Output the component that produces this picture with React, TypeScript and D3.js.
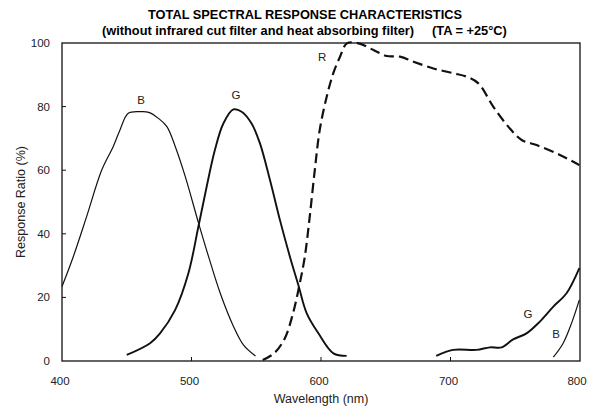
import React from "react";
import * as d3 from "d3";

const title1 = "TOTAL SPECTRAL RESPONSE CHARACTERISTICS";
const title2 = "(without infrared cut filter and heat absorbing filter)";
const title3 = "(TA = +25°C)";
const xLabel = "Wavelength (nm)";
const yLabel = "Response Ratio (%)";
const xTicks = [400, 500, 600, 700, 800];
const yTicks = [0, 20, 40, 60, 80, 100];

const blueWl = [400, 408.7, 419, 430.6, 439.5, 444.7, 451.2, 460.4, 467, 474.5, 481, 487.5, 495.2, 505.5, 513.2, 522.2, 532.5, 540.2, 549.4];
const blueVal = [23.4, 32.8, 45.4, 60, 67.4, 72.6, 77.9, 78.4, 78.2, 76.3, 73.7, 67.4, 58, 43.3, 32.8, 21.3, 10.8, 5, 1.6];

const greenWl = [450, 468, 475.7, 487.3, 497.6, 505.3, 511.7, 518.1, 524.6, 532.3, 538.7, 546.4, 552.8, 560.6, 568.3, 576, 582.5, 589, 598, 609.6, 619.8];
const greenVal = [1.9, 5.6, 8.7, 16, 27.6, 42.2, 54.8, 66.4, 74.7, 79.1, 78.4, 74.7, 68.5, 56.9, 44.3, 32.8, 23.9, 15, 8.7, 2.4, 1.6];

const greenIrWl = [689, 702, 720, 730.4, 739.5, 748.4, 758.7, 769, 779.4, 789.6, 799.5];
const greenIrVal = [1.6, 3.5, 3.5, 4.3, 4.3, 6.8, 8.7, 12.4, 17.1, 21.3, 29.2];

const blueIrWl = [779.4, 787, 793.5, 799.5];
const blueIrVal = [1.2, 5.6, 11.9, 19.2];

const redWl = [555, 564, 572, 578.4, 583.6, 587.5, 591.3, 595.2, 599, 604.4, 609.5, 614.7, 620, 629, 640.5, 650.8, 661, 671.4, 686.8, 702.2, 712.5, 721.5, 733, 744.6, 755, 766.5, 784.5, 799.5];
const redVal = [0.3, 2.5, 7.1, 15, 24.4, 32.8, 45.4, 60, 72.6, 83.1, 90.5, 95.7, 99.9, 99.9, 97.8, 95.9, 95.7, 94.1, 92, 90.5, 89.4, 87.3, 80, 73.7, 69.5, 67.9, 64.8, 61.6];

const curveLabels = ["B", "G", "R", "G", "B"];
const labelWl = [461, 534.4, 600.8, 759.8, 781.5];
const labelVal = [80.8, 82.4, 94.3, 13.5, 7.2];

const W = 595, H = 411;
const M = { left: 62, right: 580, top: 43, bottom: 361 };

export default function App() {
  const x = d3.scaleLinear().domain([400, 800]).range([M.left, M.right]);
  const y = d3.scaleLinear().domain([0, 100]).range([M.bottom, M.top]);
  const line = d3
    .line<[number, number]>()
    .x((d) => x(d[0]))
    .y((d) => y(d[1]))
    .curve(d3.curveCatmullRom.alpha(0.5));
  const zip = (a: number[], b: number[]) => a.map((v, i) => [v, b[i]] as [number, number]);
  const font = "'Liberation Sans', Arial, sans-serif";

  return (
    <svg width={W} height={H} style={{ position: "absolute", left: 0, top: 0, background: "#fff" }} fontFamily={font}>
      <text x={305} y={19} textAnchor="middle" fontSize={12.8} fontWeight="bold">{title1}</text>
      <text x={102} y={35} fontSize={12.8} fontWeight="bold">{title2}</text>
      <text x={432} y={35} fontSize={12.8} fontWeight="bold">{title3}</text>

      <rect x={M.left} y={M.top} width={M.right - M.left} height={M.bottom - M.top} fill="none" stroke="#111" strokeWidth={1.3} />
      {xTicks.slice(1, -1).map((t) => (
        <line key={"xt" + t} x1={x(t)} x2={x(t)} y1={M.bottom} y2={M.bottom - 4} stroke="#111" strokeWidth={1} />
      ))}
      {yTicks.slice(1, -1).map((t) => (
        <line key={"yt" + t} x1={M.left} x2={M.left + 4} y1={y(t)} y2={y(t)} stroke="#111" strokeWidth={1} />
      ))}
      {xTicks.map((t, i) => (
        <text key={"xl" + t} x={i === xTicks.length - 1 ? x(t) - 3 : x(t) - 2} y={385} textAnchor="middle" fontSize={11.5} fill="#222">{t}</text>
      ))}
      {yTicks.map((t) => (
        <text key={"yl" + t} x={50} y={y(t) + 4} textAnchor="end" fontSize={11.5} fill="#222">{t}</text>
      ))}
      <text x={321} y={403} textAnchor="middle" fontSize={12.5} fill="#222">{xLabel}</text>
      <text transform={`translate(25,${(M.top + M.bottom) / 2}) rotate(-90)`} textAnchor="middle" fontSize={12.5} fill="#222">{yLabel}</text>

      <path d={line(zip(blueWl, blueVal)) || ""} fill="none" stroke="#111" strokeWidth={1.2} />
      <path d={line(zip(greenWl, greenVal)) || ""} fill="none" stroke="#111" strokeWidth={1.9} />
      <path d={line(zip(greenIrWl, greenIrVal)) || ""} fill="none" stroke="#111" strokeWidth={1.9} />
      <path d={line(zip(blueIrWl, blueIrVal)) || ""} fill="none" stroke="#111" strokeWidth={1.2} />
      <path d={line(zip(redWl, redVal)) || ""} fill="none" stroke="#111" strokeWidth={2.2} strokeDasharray="10,5" />

      {curveLabels.map((c, i) => (
        <text key={"cl" + i} x={x(labelWl[i])} y={y(labelVal[i])} textAnchor="middle" fontSize={11.5} fill="#222">{c}</text>
      ))}
    </svg>
  );
}
